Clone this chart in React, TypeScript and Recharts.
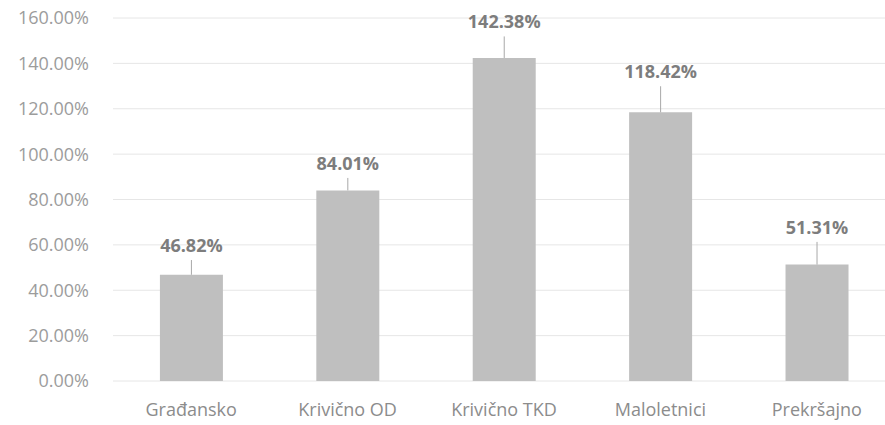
import React from 'react';
import { BarChart, Bar, XAxis, YAxis, CartesianGrid, ErrorBar, LabelList } from 'recharts';

const categories = ['Građansko', 'Krivično OD', 'Krivično TKD', 'Maloletnici', 'Prekršajno'];
const values = [46.82, 84.01, 142.38, 118.42, 51.31];
const errorsUp = [6.5, 5.5, 9.5, 11.5, 10];
const yTicks = [0, 20, 40, 60, 80, 100, 120, 140, 160];

const data = categories.map((c, i) => ({ name: c, value: values[i], err: [0, errorsUp[i]] }));

const FONT = '"Open Sans", "Liberation Sans", sans-serif';

const renderLabel = (props: any) => {
  const { x, y, width, height, value, index } = props;
  const perUnit = height / value;
  const top = y - errorsUp[index] * perUnit;
  return (
    <text x={x + width / 2} y={top - 8} textAnchor="middle" fill="#7d7d7d" fontSize={18} fontWeight="bold" fontFamily={FONT}>
      {value.toFixed(2) + '%'}
    </text>
  );
};

export default function App() {
  return (
    <div style={{ position: 'absolute', left: 0, top: 0, background: '#fff', width: 885, height: 425, overflow: 'hidden' }}>
      <BarChart width={885} height={425} data={data} margin={{ top: 18, right: -10, left: 0, bottom: 10 }} barCategoryGap="30%">
        <CartesianGrid vertical={false} stroke="#e6e6e6" />
        <XAxis dataKey="name" axisLine={false} tickLine={false} tick={{ fill: '#8c8c8c', fontSize: 18, fontFamily: FONT }} tickMargin={16} height={34} />
        <YAxis domain={[0, 160]} ticks={yTicks} axisLine={false} tickLine={false} width={113} tickMargin={18}
          tickFormatter={(v: number) => v.toFixed(2) + '%'} tick={{ fill: '#9c9c9c', fontSize: 18, fontFamily: FONT }} />
        <Bar dataKey="value" fill="#bfbfbf" isAnimationActive={false}>
          <ErrorBar dataKey="err" width={0} stroke="#a8a8a8" strokeWidth={1} direction="y" />
          <LabelList dataKey="value" content={renderLabel} />
        </Bar>
      </BarChart>
    </div>
  );
}
